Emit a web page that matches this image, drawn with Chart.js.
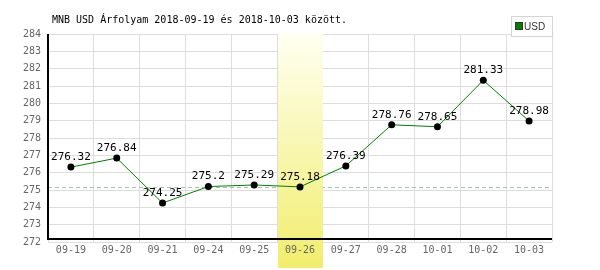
<!DOCTYPE html>
<html>
<head>
<meta charset="utf-8">
<script src="https://cdn.jsdelivr.net/npm/chart.js@4"></script>
<style>
  html, body { margin: 0; padding: 0; background: #fff; }
  #wrap { width: 600px; height: 270px; }
</style>
</head>
<body>
<div id="wrap"><canvas id="c" width="600" height="270"></canvas></div>
<script>
// MNB USD rates, 2018-09-19 .. 2018-10-03
const days = ['09-19', '09-20', '09-21', '09-24', '09-25', '09-26', '09-27', '09-28', '10-01', '10-02', '10-03'];
const usd = [276.32, 276.84, 274.25, 275.2, 275.29, 275.18, 276.39, 278.76, 278.65, 281.33, 278.98];
const yTicks = [272, 273, 274, 275, 276, 277, 278, 279, 280, 281, 282, 283, 284];
const selDay = 5; // highlighted column (09-26)
const title = 'MNB USD Árfolyam 2018-09-19 és 2018-10-03 között.';

const mono = '"DejaVu Sans Mono", "Liberation Mono", monospace';

// band + dashed ref line under the data, labels/axes/legend on top
const decor = {
  id: 'decor',
  beforeDatasetsDraw(chart) {
    const { ctx, chartArea: a, scales: { x, y } } = chart;
    ctx.save();
    // dashed line at the selected day's value
    const ry = Math.round(y.getPixelForValue(usd[selDay])) + 0.5;
    ctx.strokeStyle = '#a8c4a8';
    ctx.lineWidth = 1;
    ctx.setLineDash([4, 3]);
    ctx.beginPath(); ctx.moveTo(a.left, ry); ctx.lineTo(a.right, ry); ctx.stroke();
    ctx.setLineDash([]);
    // highlight band
    const slot = (a.right - a.left) / days.length;
    const cx = x.getPixelForValue(selDay);
    const g = ctx.createLinearGradient(0, a.top - 1, 0, 268);
    g.addColorStop(0, '#fffff2');
    g.addColorStop(1, '#f1ee6c');
    ctx.fillStyle = g;
    ctx.fillRect(Math.round(cx - slot / 2) + 1, a.top - 1, Math.round(slot) - 1, 268 - a.top + 1);
    ctx.restore();
  },
  afterDatasetsDraw(chart) {
    const { ctx, chartArea: a } = chart;
    const meta = chart.getDatasetMeta(0);
    ctx.save();
    // axis lines
    ctx.strokeStyle = '#000';
    ctx.lineWidth = 2;
    ctx.beginPath();
    ctx.moveTo(a.left, a.top);
    ctx.lineTo(a.left, a.bottom - 3);
    ctx.lineTo(a.right, a.bottom - 3);
    ctx.stroke();
    // value labels
    ctx.fillStyle = '#000';
    ctx.font = '11px ' + mono;
    ctx.textAlign = 'center';
    ctx.textBaseline = 'middle';
    meta.data.forEach((pt, i) => {
      ctx.fillText(String(usd[i]), pt.x, pt.y - 10);
    });
    // title
    ctx.textAlign = 'left';
    ctx.font = '10px ' + mono;
    ctx.fillText(title, 52, 20);
    // legend
    ctx.fillStyle = '#fff';
    ctx.fillRect(511, 16, 41, 20);
    ctx.strokeStyle = '#d4d4d4';
    ctx.lineWidth = 1;
    ctx.strokeRect(511.5, 16.5, 41, 20);
    ctx.fillStyle = '#008000';
    ctx.fillRect(516, 23, 6, 6);
    ctx.strokeStyle = '#333';
    ctx.strokeRect(515.5, 22.5, 7, 7);
    ctx.fillStyle = '#333';
    ctx.font = '10px "Liberation Sans Narrow", "Liberation Sans", sans-serif';
    ctx.fillText('USD', 524, 27);
    ctx.restore();
  }
};

new Chart(document.getElementById('c'), {
  type: 'line',
  data: {
    labels: days,
    datasets: [{
      data: usd,
      borderColor: '#008000',
      borderWidth: 1,
      tension: 0,
      pointRadius: 3.5,
      pointBackgroundColor: '#000',
      pointBorderColor: '#000',
      pointBorderWidth: 0,
      pointHoverRadius: 3.5,
      clip: false
    }]
  },
  options: {
    responsive: false,
    animation: false,
    devicePixelRatio: 1,
    layout: { padding: { top: 34, left: 0, right: 48, bottom: 0 } },
    plugins: { legend: { display: false }, tooltip: { enabled: false }, title: { display: false } },
    scales: {
      x: {
        offset: true,
        grid: { color: '#dddddd', lineWidth: 1, offset: true, drawTicks: false },
        border: { display: false },
        ticks: { z: 1, color: '#666', font: { family: mono, size: 10 }, padding: 2, maxRotation: 0, autoSkip: false },
        afterFit(s) { s.height = 28; }
      },
      y: {
        min: yTicks[0],
        max: yTicks[yTicks.length - 1],
        afterBuildTicks(s) { s.ticks = yTicks.map(v => ({ value: v })); },
        grid: { color: '#dddddd', lineWidth: 1, drawTicks: false },
        border: { display: false },
        ticks: { color: '#666', font: { family: mono, size: 10 }, padding: 7 },
        afterFit(s) { s.width = 48; }
      }
    }
  },
  plugins: [decor]
});
</script>
</body>
</html>
